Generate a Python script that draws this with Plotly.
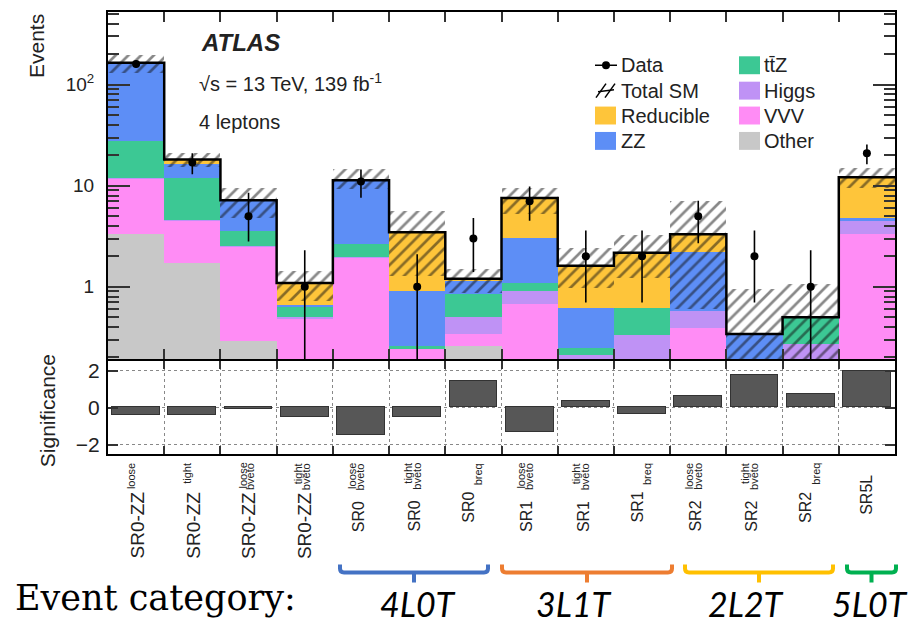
import numpy as np
import plotly.graph_objects as go

# ---- signal-region yields (4-lepton analysis, 139 fb^-1) ----
label_base = ["SR0-ZZ", "SR0-ZZ", "SR0-ZZ", "SR0-ZZ", "SR0", "SR0", "SR0",
              "SR1", "SR1", "SR1", "SR2", "SR2", "SR2", "SR5L"]
label_sup = ["loose", "tight", "loose", "tight", "loose", "tight", "",
             "loose", "tight", "", "loose", "tight", "", ""]
label_sub = ["", "", "bveto", "bveto", "bveto", "bveto", "breq",
             "bveto", "bveto", "breq", "bveto", "bveto", "breq", ""]

other = [3.3, 1.7, 0.29, 0, 0, 0, 0.26, 0, 0, 0, 0, 0, 0, 0]
vvv = [8.6, 2.8, 2.24, 0.48, 1.93, 0.24, 0.08, 0.68, 0, 0, 0.39, 0, 0, 3.3]
higgs = [0.1, 0.1, 0.03, 0.02, 0.05, 0, 0.16, 0.23, 0.21, 0.33, 0.19, 0, 0.27, 1.2]
ttz = [15.4, 7.3, 1.0, 0.14, 0.67, 0.02, 0.35, 0.19, 0.04, 0.29, 0, 0, 0.23, 0]
zz = [136.6, 4.4, 3.64, 0.02, 8.65, 0.65, 0.3, 1.95, 0.37, 0, 1.62, 0.34, 0, 0.3]
reducible = [0.5, 1.9, 0, 0.43, 0, 2.56, 0.05, 4.5, 0.99, 1.55, 1.1, 0, 0, 7.3]

sm_err_up = [33, 2.7, 2.3, 0.33, 3.2, 2.1, 0.3, 2.0, 0.8, 1.1, 3.7, 0.6, 0.57, 2.8]
sm_err_dn = [33, 3.0, 2.4, 0.37, 2.1, 2.2, 0.33, 2.3, 0.63, 0.94, 2.7, 0.33, 0.49, 2.6]

data = [160, 17, 5, 1, 11, 1, 3, 7, 2, 2, 5, 2, 1, 21]
data_err_up = [13, 4, 3.5, 1.3, 3.5, 1.1, 1.8, 2.8, 1.6, 1.6, 2.1, 1.6, 1.3, 4.6]
data_err_dn = [13, 4, 2.2, 0.85, 3.4, 0.85, 1.6, 2.5, 1.3, 1.3, 2.3, 1.3, 0.85, 4.7]

significance = [-0.43, -0.43, -0.08, -0.52, -1.51, -0.52, 1.41, -1.33,
                0.34, -0.34, 0.6, 1.73, 0.74, 1.95]

components = [
    ("Other", other, "#c8c8c8"),
    ("VVV", vvv, "#ff8cf5"),
    ("Higgs", higgs, "#bf92f5"),
    ("tt\u0304Z", ttz, "#3cc894"),
    ("ZZ", zz, "#5d8ef6"),
    ("Reducible", reducible, "#fec53a"),
]

bins = np.arange(len(label_base))
total = np.sum([np.array(c[1], dtype=float) for c in components], axis=0)
edges = np.arange(len(bins) + 1) - 0.5

TXT = "#222222"
FONT = "Liberation Sans, Arial, sans-serif"
TICK = "#333333"

# page geometry (pixels) of the plotting area
W, H = 920, 623
L, R, T, B = 108, 25, 10, 169
PW, PH = W - L - R, H - T - B


def px(x):
    return (x - L) / PW


def py(y):
    return (H - B - y) / PH


fig = go.Figure()

# stacked background components
for name, vals, col in components:
    fig.add_trace(go.Bar(x=bins, y=vals, width=1.0, name=name,
                         marker=dict(color=col, line=dict(width=0)),
                         showlegend=False, xaxis="x", yaxis="y"))

# total SM uncertainty band (hatched)
up = np.array(sm_err_up)
dn = np.array(sm_err_dn)
fig.add_trace(go.Bar(x=bins, y=up + dn, base=total - dn, width=1.0,
                     marker=dict(color="rgba(0,0,0,0)", line=dict(width=0),
                                 pattern=dict(shape="/", fgcolor="#111111",
                                              size=9, solidity=0.3,
                                              fillmode="overlay")),
                     showlegend=False, xaxis="x", yaxis="y"))

# total SM outline
fig.add_trace(go.Scatter(x=edges, y=np.append(total, total[-1]), mode="lines",
                         line=dict(color="black", width=2.5, shape="hv"),
                         showlegend=False, xaxis="x", yaxis="y"))

# observed data
fig.add_trace(go.Scatter(x=bins, y=data, mode="markers",
                         marker=dict(color="black", size=8),
                         error_y=dict(type="data", symmetric=False,
                                      array=data_err_up, arrayminus=data_err_dn,
                                      color="black", thickness=1.6, width=0),
                         showlegend=False, xaxis="x", yaxis="y"))

# significance panel
fig.add_trace(go.Bar(x=bins, y=significance, width=0.85,
                     marker=dict(color="#575757", line=dict(color="#333333", width=1.5)),
                     showlegend=False, xaxis="x2", yaxis="y2"))

fig.update_layout(
    width=W, height=H,
    margin=dict(l=L, r=R, t=T, b=B, pad=0),
    paper_bgcolor="white", plot_bgcolor="white",
    barmode="stack", bargap=0,
    font=dict(family=FONT, color=TXT),
    xaxis=dict(domain=[0, 1], anchor="y", range=[-0.5, 13.5],
               tickmode="array", tickvals=edges, ticks="inside", ticklen=10,
               tickwidth=2, tickcolor=TICK, showticklabels=False,
               showline=True, linewidth=2, linecolor="black", mirror="allticks",
               showgrid=False, zeroline=False),
    yaxis=dict(domain=[py(359), 1], anchor="x", type="log",
               range=[-0.719, 2.719],
               tickmode="array", tickvals=[1, 10, 100],
               ticktext=["1", "10", "10<sup>2</sup>"],
               ticks="inside", ticklen=22, tickwidth=2, tickcolor=TICK,
               minor=dict(dtick="D1", ticks="inside", ticklen=11, tickwidth=2,
                          tickcolor=TICK, showgrid=False),
               tickfont=dict(size=19, color=TXT), ticklabelstandoff=8,
               showline=True, linewidth=2, linecolor="black", mirror="allticks",
               showgrid=False, zeroline=False),
    xaxis2=dict(domain=[0, 1], anchor="y2", range=[-0.5, 13.5],
                tickmode="array", tickvals=edges, ticks="inside", ticklen=8,
                tickwidth=2, tickcolor=TICK, showticklabels=False,
                showline=True, linewidth=2, linecolor="black", mirror="allticks",
                showgrid=True, gridcolor="#888888", gridwidth=1, griddash="dot",
                zeroline=False),
    yaxis2=dict(domain=[0, py(361)], anchor="x2", range=[-2.5, 2.5],
                tickmode="array", tickvals=[-2, 0, 2],
                ticktext=["\u22122", "0", "2"],
                ticks="inside", ticklen=10, tickwidth=2, tickcolor=TICK,
                tickfont=dict(size=21, color=TXT), ticklabelstandoff=2,
                showline=True, linewidth=2, linecolor="black", mirror="allticks",
                showgrid=True, gridcolor="#888888", gridwidth=1, griddash="dot",
                zeroline=False),
)

ann = []
shapes = []

# axis titles
ann.append(dict(text="Events", x=px(36), y=py(10), xref="paper", yref="paper",
                xanchor="center", yanchor="top", textangle=-90, showarrow=False,
                font=dict(size=21, color=TXT)))
ann.append(dict(text="Significance", x=px(47), y=py(411), xref="paper", yref="paper",
                xanchor="center", yanchor="middle", textangle=-90, showarrow=False,
                font=dict(size=21, color=TXT)))

# experiment labels
ann.append(dict(text="<b><i>ATLAS</i></b>", x=px(199), y=py(41), xref="paper",
                yref="paper", xanchor="left", yanchor="middle", showarrow=False,
                font=dict(size=24, color=TXT)))
ann.append(dict(text="\u221as = 13 TeV, 139 fb<sup>-1</sup>", x=px(197), y=py(81),
                xref="paper", yref="paper", xanchor="left", yanchor="middle",
                showarrow=False, font=dict(size=20, color=TXT)))
ann.append(dict(text="4 leptons", x=px(197), y=py(120), xref="paper", yref="paper",
                xanchor="left", yanchor="middle", showarrow=False,
                font=dict(size=20, color=TXT)))

# legend (two columns)
rows = [63.5, 89, 114, 139.5]
col1_box, col2_box = 595, 739
box_w, box_h = 21, 18


def legend_text(txt, x, y):
    ann.append(dict(text=txt, x=px(x), y=py(y), xref="paper", yref="paper",
                    xanchor="left", yanchor="middle", showarrow=False,
                    font=dict(size=20, color=TXT)))


def legend_box(col, x, y):
    shapes.append(dict(type="rect", xref="paper", yref="paper",
                       x0=px(x), x1=px(x + box_w), y0=py(y + box_h / 2),
                       y1=py(y - box_h / 2), fillcolor=col, line=dict(width=0)))


# Data
shapes.append(dict(type="line", xref="paper", yref="paper", x0=px(595), x1=px(617),
                   y0=py(rows[0]), y1=py(rows[0]), line=dict(color="black", width=1.5)))
shapes.append(dict(type="circle", xref="paper", yref="paper", x0=px(602), x1=px(610),
                   y0=py(rows[0] + 4), y1=py(rows[0] - 4), fillcolor="black",
                   line=dict(color="black", width=0)))
legend_text("Data", 619, rows[0])
# Total SM hatch symbol
for x0 in (596, 605):
    shapes.append(dict(type="line", xref="paper", yref="paper", x0=px(x0), x1=px(x0 + 10),
                       y0=py(rows[1] + 7), y1=py(rows[1] - 7),
                       line=dict(color="black", width=1.5)))
shapes.append(dict(type="line", xref="paper", yref="paper", x0=px(598), x1=px(614),
                   y0=py(rows[1] + 1), y1=py(rows[1] - 1), line=dict(color="black", width=1.5)))
legend_text("Total SM", 619, rows[1])

cols = {name: col for name, _, col in components}
legend_box(cols["Reducible"], col1_box, rows[2])
legend_text("Reducible", 619, rows[2])
legend_box(cols["ZZ"], col1_box, rows[3])
legend_text("ZZ", 619, rows[3])

for r, name in zip(rows, ["tt\u0304Z", "Higgs", "VVV", "Other"]):
    legend_box(cols[name], col2_box, r)
    legend_text(name, 762, r)

# region labels below the significance panel
for i, (base, sup, sub) in enumerate(zip(label_base, label_sup, label_sub)):
    big = base.startswith("SR0-ZZ")
    fsize = 19 if big else 16
    if sup and sub:
        top, dx_base, dx_sup, dx_sub = (490 if big else 499), (0 if big else -3), \
            (-6 if big else -9), (2 if big else 0)
    elif sup:
        top, dx_base, dx_sup, dx_sub = 490, 1, -5, 0
    elif sub:
        top, dx_base, dx_sup, dx_sub = 490, -5, 0, 5
    else:
        top, dx_base, dx_sup, dx_sub = 473, 0, 0, 0
    ann.append(dict(text=base, x=i, xref="x", y=py(top), yref="paper",
                    xanchor="center", yanchor="top", textangle=-90, xshift=dx_base,
                    showarrow=False, font=dict(size=fsize, color=TXT)))
    if sup:
        ann.append(dict(text=sup, x=i, xref="x", y=py(461), yref="paper",
                        xanchor="center", yanchor="top", textangle=-90, xshift=dx_sup,
                        showarrow=False, font=dict(size=11, color=TXT)))
    if sub:
        ann.append(dict(text=sub, x=i, xref="x", y=py(461), yref="paper",
                        xanchor="center", yanchor="top", textangle=-90, xshift=dx_sub,
                        showarrow=False, font=dict(size=11, color=TXT)))

# event categories
ann.append(dict(text="Event category:", x=px(13), y=py(599), xref="paper", yref="paper",
                xanchor="left", yanchor="middle", showarrow=False,
                font=dict(family="DejaVu Serif, serif", size=35, color="black")))

categories = [("4L0T", 340, 488, "#4472c4"), ("3L1T", 502, 672, "#ed7d31"),
              ("2L2T", 685, 833, "#ffc000"), ("5L0T", 847, 896, "#00b050")]
cat_centers = [418, 574, 746, 870]
for (name, x0, x1, col), xc in zip(categories, cat_centers):
    xm = (x0 + x1) / 2
    r = 4
    path = (f"M{px(x0)},{py(565)} L{px(x0)},{py(573 - r)} "
            f"Q{px(x0)},{py(573)} {px(x0 + r)},{py(573)} "
            f"L{px(x1 - r)},{py(573)} Q{px(x1)},{py(573)} {px(x1)},{py(573 - r)} "
            f"L{px(x1)},{py(565)} M{px(xm)},{py(573)} L{px(xm)},{py(583)}")
    shapes.append(dict(type="path", xref="paper", yref="paper", path=path,
                       line=dict(color=col, width=4)))
    ann.append(dict(text=f"<i>{name}</i>", x=px(xc), y=py(604), xref="paper",
                    yref="paper", xanchor="center", yanchor="middle", showarrow=False,
                    font=dict(family="Lato, Open Sans, sans-serif", size=34, color="black")))

fig.update_layout(annotations=ann, shapes=shapes)

fig.write_html("out.html")
